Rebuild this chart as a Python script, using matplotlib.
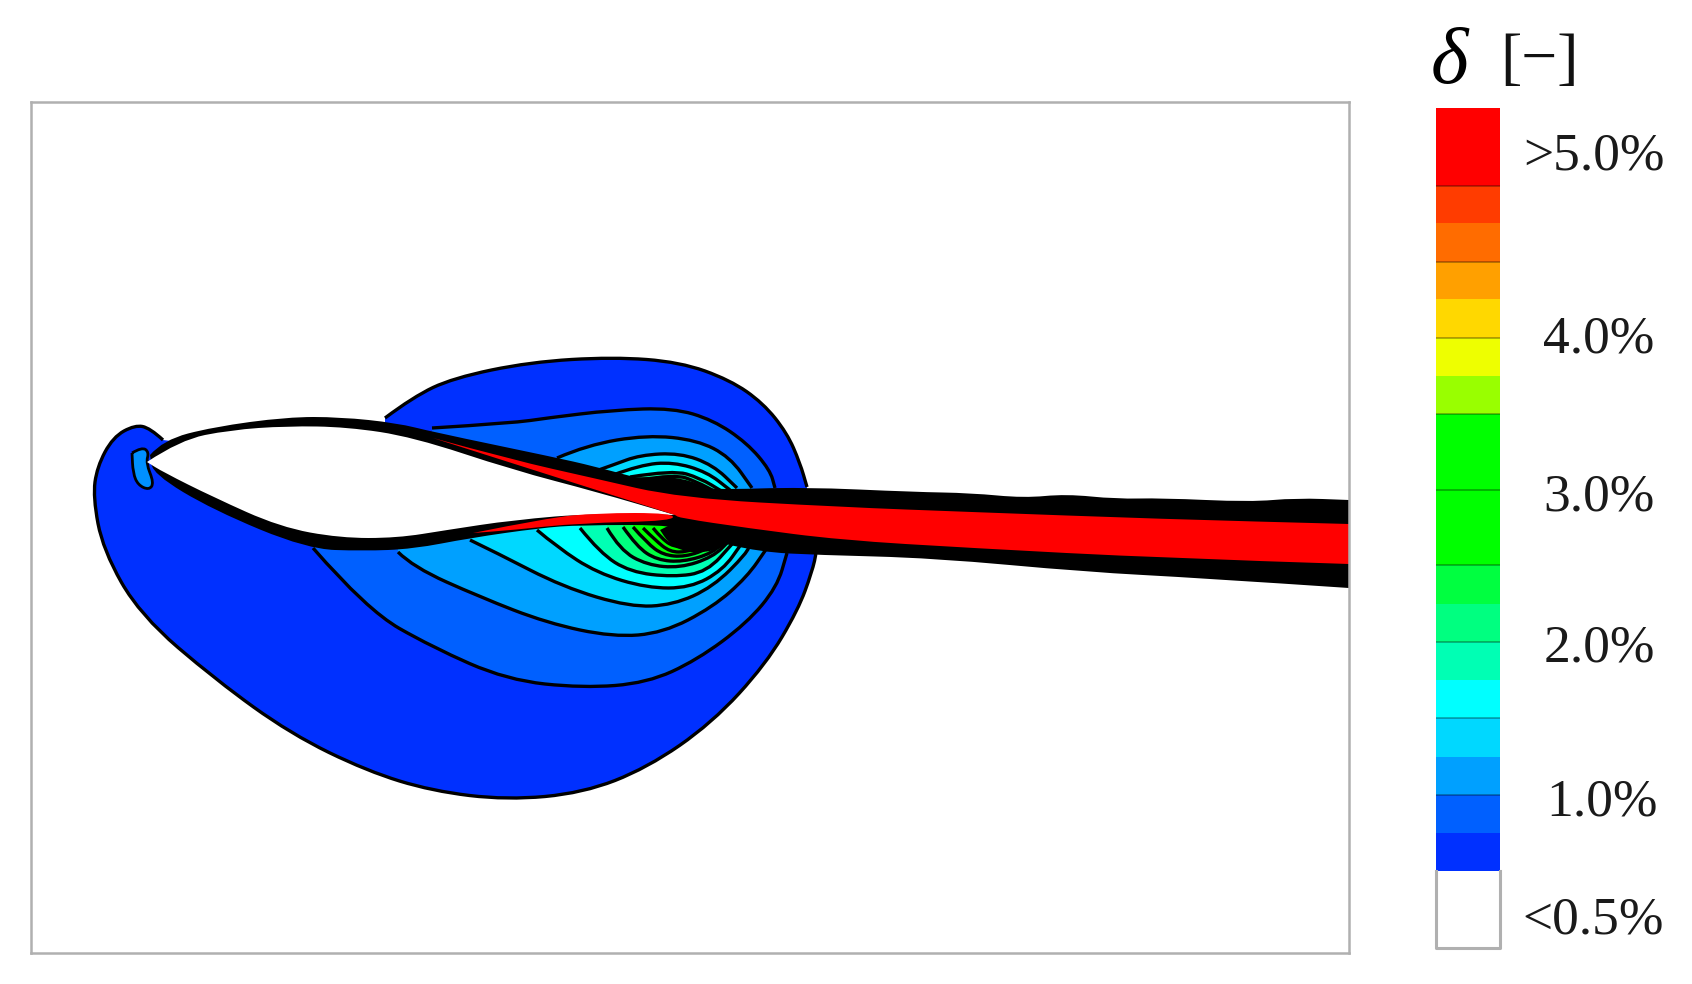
import matplotlib
matplotlib.use('Agg')
import matplotlib.pyplot as plt
from matplotlib.colors import ListedColormap, BoundaryNorm
from matplotlib.patches import PathPatch
from matplotlib.path import Path

W, H = 1692, 984

# colour scale (top to bottom), edges are positions along the legend bar
band_edges = [108, 186, 223, 262, 299, 338, 376, 414, 452, 490, 527, 565, 604, 642, 680, 718, 757, 795, 833, 871, 948]
band_colors = ['#ff0000', '#ff3c00', '#ff6c00', '#ffa000', '#ffd800', '#eeff00', '#99ff00', '#00ff00', '#00ff00',
               '#00ff00', '#00ff00', '#00ff40', '#00ff80', '#00ffb4', '#00ffff', '#00d8ff', '#00a0ff', '#0060ff',
               '#0030ff', '#ffffff']
band_lines = [186, 262, 338, 414, 490, 565, 642, 718, 795]
bar_labels = ['>5.0%', '4.0%', '3.0%', '2.0%', '1.0%', '<0.5%']
bar_label_x = [1594, 1599, 1599, 1599, 1602, 1593]
bar_label_y = [156, 340, 497, 649, 802, 921]

# outer regions
lobe_low_x = [163, 150, 135, 113, 97, 93, 103, 140, 216, 291, 367, 432, 507, 583, 647, 712, 766, 798, 812, 817, 817]
lobe_low_y = [440, 428, 425, 437, 467, 497, 550, 615, 680, 734, 771, 791, 800, 793, 768, 723, 664, 610, 572, 550, 520]
lobe_up_x = [385, 413, 453, 530, 613, 680, 730, 763, 787, 800, 807]
lobe_up_y = [418, 397, 378, 362, 357, 362, 380, 403, 433, 463, 487]
nose_x = [132, 142, 149, 146, 154, 149, 138, 133, 132]
nose_y = [453, 447, 452, 463, 483, 490, 485, 473, 453]

# contours under the foil, outer to inner
low_x = [
    [313, 367, 432, 507, 583, 647, 697, 747, 777, 787],
    [398, 413, 480, 547, 613, 663, 713, 747, 767],
    [470, 497, 563, 630, 673, 713, 747, 750],
    [537, 557, 597, 647, 690, 723, 742],
    [580, 600, 630, 673, 707, 733],
    [607, 620, 647, 680, 713, 730],
    [623, 637, 657, 683, 713, 727],
    [633, 647, 663, 685, 710, 722],
    [643, 655, 670, 687, 705, 717],
    [653, 663, 675, 688, 700, 710],
]
low_y = [
    [548, 610, 647, 680, 688, 683, 660, 623, 587, 553],
    [552, 567, 597, 623, 637, 633, 607, 577, 548],
    [540, 553, 587, 607, 605, 587, 553, 543],
    [530, 547, 573, 588, 588, 570, 543],
    [528, 553, 572, 577, 572, 543],
    [528, 550, 565, 568, 557, 540],
    [527, 547, 560, 562, 553, 538],
    [527, 543, 555, 557, 548, 537],
    [528, 540, 552, 552, 545, 537],
    [528, 540, 547, 547, 542, 535],
]
low_colors = ['#0060ff', '#00a0ff', '#00d8ff', '#00ffff', '#00ffb4', '#00ff80', '#00ff40', '#00ff00', '#00ff00', '#00ff00']

# contours above the foil, outer to inner
up_x = [
    [432, 513, 547, 613, 673, 713, 747, 770, 775],
    [557, 587, 647, 697, 730, 752],
    [593, 613, 640, 680, 713, 737],
    [613, 640, 673, 707, 730],
    [630, 673, 700, 723],
    [640, 675, 697, 716],
]
up_y = [
    [428, 423, 418, 410, 408, 420, 443, 470, 488],
    [458, 445, 435, 440, 457, 488],
    [472, 465, 455, 453, 465, 488],
    [475, 465, 462, 472, 490],
    [477, 470, 478, 492],
    [480, 474, 482, 492],
]
up_colors = ['#0060ff', '#00a0ff', '#00d8ff', '#00ffff', '#00ffb4', '#00ff80']

# dense line cores
core_up_x = [620, 660, 690, 716, 660]
core_up_y = [478, 476, 480, 492, 494]
core_low_x = [670, 735, 725, 700, 682, 668, 660]
core_low_y = [525, 530, 548, 553, 551, 542, 530]

# foil skin and wake
skin_up_x = [150, 163, 213, 287, 340, 397, 433, 553, 593, 660, 713, 803, 914, 971, 1024, 1066, 1116, 1162, 1250, 1296, 1349]
skin_up_y = [455, 440, 427, 417, 417, 423, 432, 457, 466, 484, 490, 487, 492, 493, 498, 494, 499, 498, 502, 498, 500]
skin_low_x = [1349, 1200, 1086, 933, 818, 760, 700, 680, 580, 540, 470, 413, 363, 307, 213, 153, 150]
skin_low_y = [588, 578, 572, 558, 555, 552, 538, 525, 525, 528, 538, 549, 551, 549, 510, 474, 455]
foil_up_x = [147, 180, 230, 287, 347, 413, 513, 597, 675]
foil_up_y = [462, 440, 430, 426, 427, 437, 470, 492, 515]
foil_low_x = [675, 597, 513, 447, 397, 340, 280, 213, 163, 147]
foil_low_y = [515, 513, 520, 530, 538, 538, 527, 497, 472, 462]
red_top_x = [433, 513, 593, 680, 840, 971, 1162, 1349]
red_top_y = [438, 460, 478, 498, 507, 512, 519, 524]
red_bot_x = [1349, 1162, 971, 840, 747, 680, 675]
red_bot_y = [564, 558, 548, 540, 528, 518, 515]
red_low_x = [473, 547, 597, 673, 673, 580, 513, 473]
red_low_y = [533, 518, 513, 513, 521, 523, 530, 533]

plt.rcParams['font.family'] = ['Liberation Serif', 'DejaVu Sans']

fig = plt.figure(figsize=(W / 100, H / 100), dpi=100)
ax = fig.add_axes([31 / W, 1 - 953 / H, (1349 - 31) / W, (953 - 102) / H])
ax.set_xlim(31, 1349)
ax.set_ylim(953, 102)
ax.set_xticks([])
ax.set_yticks([])
for s in ax.spines.values():
    s.set_color('#b0b0b0')
    s.set_linewidth(1.8)


def curve(xs, ys):
    # quadratic pieces through the midpoints, so the outline has no corners
    pts = list(zip(xs, ys))
    verts = [pts[0]]
    codes = [Path.LINETO]
    for a, b in zip(pts[1:-1], pts[2:]):
        mid = ((a[0] + b[0]) / 2, (a[1] + b[1]) / 2)
        verts += [a, mid]
        codes += [Path.CURVE3, Path.CURVE3]
    verts.append(pts[-1])
    codes.append(Path.LINETO)
    return verts, codes


def add_shape(pieces, color):
    verts, codes = [], []
    for xs, ys in pieces:
        v, c = curve(xs, ys)
        verts += v
        codes += c
    codes[0] = Path.MOVETO
    verts.append(verts[0])
    codes.append(Path.CLOSEPOLY)
    ax.add_patch(PathPatch(Path(verts, codes), facecolor=color, edgecolor='none', lw=0))


def add_line(xs, ys, lw=2.4):
    verts, codes = curve(xs, ys)
    codes[0] = Path.MOVETO
    ax.add_patch(PathPatch(Path(verts, codes), facecolor='none', edgecolor='k', lw=lw, joinstyle='round'))


def region(xs, ys, color, close_y=500):
    # close the shape behind the foil, which is drawn over it later
    add_shape([(xs, ys), ([xs[-1], xs[-1]], [ys[-1], close_y]), ([xs[-1], xs[0]], [close_y, close_y])], color)
    add_line(xs, ys)


add_shape([(lobe_low_x, lobe_low_y)], '#0030ff')
add_line(lobe_low_x, lobe_low_y)
region(lobe_up_x, lobe_up_y, '#0030ff')

for xs, ys, c in zip(low_x, low_y, low_colors):
    region(xs, ys, c)
for xs, ys, c in zip(up_x, up_y, up_colors):
    region(xs, ys, c)

add_shape([(core_up_x, core_up_y)], 'k')
add_shape([(core_low_x, core_low_y)], 'k')

add_shape([(nose_x, nose_y)], '#0090ff')
add_line(nose_x, nose_y, lw=2.0)
add_shape([(skin_up_x, skin_up_y), (skin_low_x, skin_low_y)], 'k')
add_shape([(foil_up_x, foil_up_y), (foil_low_x, foil_low_y)], 'w')
add_shape([(red_top_x, red_top_y), (red_bot_x, red_bot_y)], '#ff0000')
add_shape([(red_low_x, red_low_y)], '#ff0000')

# colour scale
bar = fig.add_axes([1436 / W, 1 - 948 / H, 64 / W, (948 - 108) / H])
cmap = ListedColormap(band_colors)
norm = BoundaryNorm(band_edges, cmap.N)
mids = [(a + b) / 2 for a, b in zip(band_edges[:-1], band_edges[1:])]
bar.pcolormesh([0, 1], band_edges, [[m] for m in mids], cmap=cmap, norm=norm)
bar.hlines(band_lines, 0, 1, color='k', alpha=0.35, lw=1.2)
bar.plot([0, 0, 1, 1], [871, 948, 948, 871], color='#b0b0b0', lw=2.2, clip_on=False)
bar.set_xlim(0, 1)
bar.set_ylim(948, 108)
bar.axis('off')

for lab, x, y in zip(bar_labels, bar_label_x, bar_label_y):
    fig.text(x / W, 1 - y / H, lab, fontsize=38.5, color='#1a1a1a', ha='center', va='center')
fig.text(1449 / W, 1 - 63 / H, '\u03b4', fontsize=58, style='italic', color='k', ha='center', va='center')
fig.text(1539 / W, 1 - 62 / H, '[\u2212]', fontsize=46, color='#111111', ha='center', va='center')

fig.savefig('out.png', dpi=100)
